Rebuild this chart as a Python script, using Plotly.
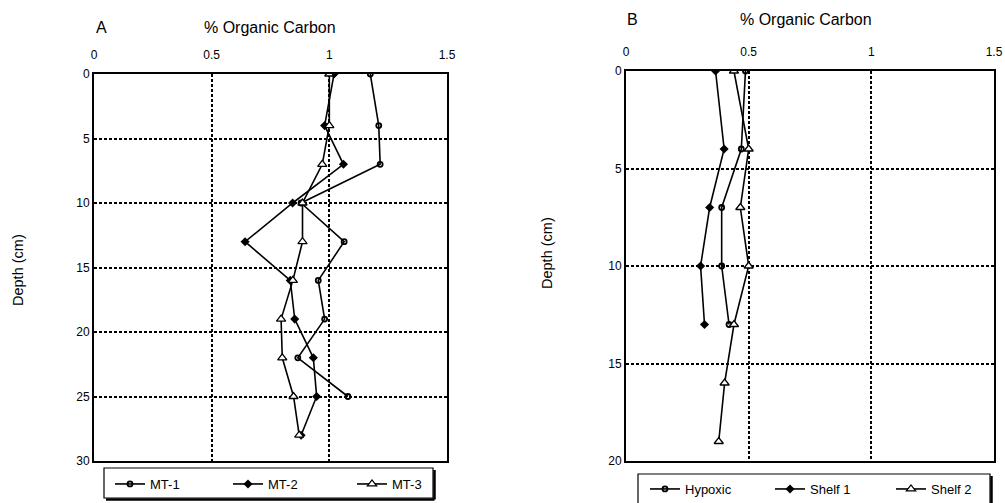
import plotly.graph_objects as go

# ---------------- data ----------------
depth_A = [0, 4, 7, 10, 13, 16, 19, 22, 25, 28]
mt1 = [1.174, 1.21, 1.216, 0.88, 1.063, 0.953, 0.98, 0.866, 1.079]
mt2 = [1.02, 0.98, 1.06, 0.844, 0.642, 0.834, 0.853, 0.932, 0.946, 0.88]
mt3 = [1.0, 1.0, 0.97, 0.886, 0.886, 0.845, 0.795, 0.80, 0.848, 0.872]

depth_B = [0, 4, 7, 10, 13, 16, 19]
hypoxic = [0.487, 0.47, 0.39, 0.39, 0.42]
shelf1 = [0.365, 0.40, 0.341, 0.304, 0.32]
shelf2 = [0.44, 0.50, 0.466, 0.50, 0.44, 0.402, 0.378]

x_ticks = [0, 0.5, 1, 1.5]
x_ticklabels = ["0", "0.5", "1", "1.5"]
yA_ticks = [0, 5, 10, 15, 20, 25, 30]
yB_ticks = [0, 5, 10, 15, 20]

W, H = 1005, 503
FONT = "Liberation Sans, Arial, sans-serif"


def px(x):
    return x / W


def py(y):
    return 1 - y / H


fig = go.Figure()

line_style = dict(color="black", width=1.6)
m_circle = dict(symbol="circle-open", size=5, color="black", line=dict(width=1.8))
m_diamond = dict(symbol="diamond", size=7, color="black")
m_tri = dict(symbol="triangle-up", size=8, color="white", line=dict(color="black", width=1.3))

series = [
    ("MT-1", mt1, depth_A, "x", "y", "legend", m_circle),
    ("MT-2", mt2, depth_A, "x", "y", "legend2", m_diamond),
    ("MT-3", mt3, depth_A, "x", "y", "legend3", m_tri),
    ("Hypoxic", hypoxic, depth_B, "x2", "y2", "legend4", m_circle),
    ("Shelf 1", shelf1, depth_B, "x2", "y2", "legend5", m_diamond),
    ("Shelf 2", shelf2, depth_B, "x2", "y2", "legend6", m_tri),
]
for name, vals, depths, xa, ya, lg, mk in series:
    fig.add_trace(go.Scatter(x=vals, y=depths[:len(vals)], mode="lines+markers", name=name,
                             line=line_style, xaxis=xa, yaxis=ya, legend=lg, marker=mk))

common_x = dict(range=[0, 1.5], tickvals=x_ticks, ticktext=x_ticklabels, side="top",
                showline=True, linecolor="black", linewidth=2, mirror=True,
                showgrid=True, gridcolor="black", gridwidth=1.5, griddash="3px,2px",
                zeroline=False, ticks="", ticklabelstandoff=8, automargin=False,
                tickfont=dict(size=12, color="black", family=FONT), fixedrange=True)
common_y = dict(autorange=False, showline=True, linecolor="black", linewidth=2, mirror=True,
                showgrid=True, gridcolor="black", gridwidth=1.5, griddash="3px,2px",
                zeroline=False, ticks="inside", ticklen=3, tickcolor="black", automargin=False,
                tickfont=dict(size=12, color="black", family=FONT), fixedrange=True)

# legend entries: (legend id, left-x, top-y)
leg_pos = {"legend": (110, 469), "legend2": (228, 469), "legend3": (352, 469),
           "legend4": (645, 474), "legend5": (770, 474), "legend6": (891, 474)}
legends = {}
for lg, (lx, ly) in leg_pos.items():
    legends[lg] = dict(x=px(lx), y=py(ly), xanchor="left", yanchor="top",
                       bgcolor="rgba(0,0,0,0)", borderwidth=0,
                       font=dict(size=13, family=FONT, color="black"),
                       itemclick=False, itemdoubleclick=False)

fig.update_layout(
    width=W, height=H,
    margin=dict(l=0, r=0, t=0, b=0, autoexpand=False),
    paper_bgcolor="white", plot_bgcolor="white",
    font=dict(family=FONT, color="black", size=12),
    xaxis=dict(domain=[px(94), px(447)], anchor="y", **common_x),
    yaxis=dict(domain=[py(461), py(74)], anchor="x", range=[30, 0], tickvals=yA_ticks, **common_y),
    xaxis2=dict(domain=[px(626), px(994)], anchor="y2", **common_x),
    yaxis2=dict(domain=[py(461), py(71)], anchor="x2", range=[20, 0], tickvals=yB_ticks, **common_y),
    showlegend=True,
    **legends,
)

# Legend frames with shadow
for (x0, x1, y0, y1) in [(104, 433, 468, 498), (638, 990, 474, 512)]:
    fig.add_shape(type="rect", xref="paper", yref="paper",
                  x0=px(x0), x1=px(x1), y0=py(y1), y1=py(y0),
                  line=dict(color="black", width=1.2), layer="below")
    fig.add_shape(type="line", xref="paper", yref="paper",
                  x0=px(x1 + 1.5), x1=px(x1 + 1.5), y0=py(y1 + 1.5), y1=py(y0 + 2),
                  line=dict(color="black", width=2.5))
    fig.add_shape(type="line", xref="paper", yref="paper",
                  x0=px(x0 + 2), x1=px(x1 + 1.5), y0=py(y1 + 1.5), y1=py(y1 + 1.5),
                  line=dict(color="black", width=2.5))

annos = [
    ("A", 101, 27, 16), ("% Organic Carbon", 270, 27, 16),
    ("B", 632, 20, 16), ("% Organic Carbon", 806, 20, 16),
]
for text, x, y, s in annos:
    fig.add_annotation(text=text, x=px(x), y=py(y), xref="paper", yref="paper",
                       showarrow=False, xanchor="center", yanchor="middle",
                       font=dict(size=s, family=FONT, color="black"))

for x, y in [(18, 270), (547, 253)]:
    fig.add_annotation(text="Depth (cm)", x=px(x), y=py(y), xref="paper", yref="paper",
                       showarrow=False, textangle=-90, xanchor="center", yanchor="middle",
                       font=dict(size=14.5, family=FONT, color="black"))

fig.write_html("out.html")
